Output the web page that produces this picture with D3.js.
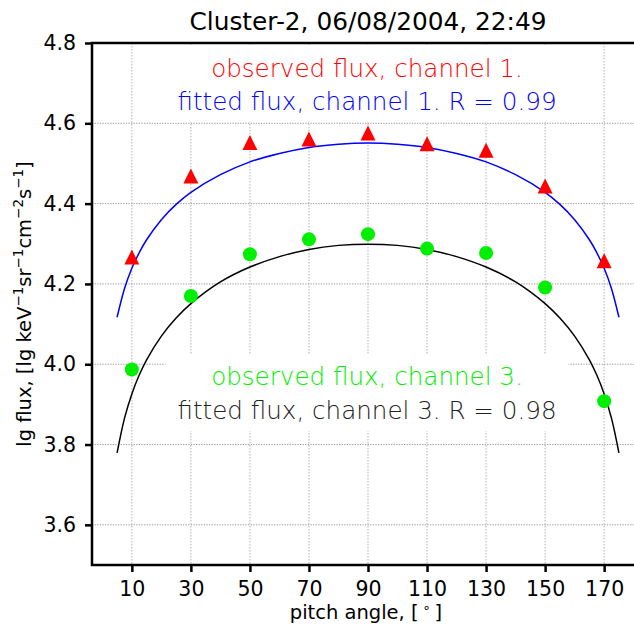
<!DOCTYPE html>
<html><head><meta charset="utf-8">
<script src="https://cdn.jsdelivr.net/npm/d3@7"></script>
<style>
body{margin:0;background:#fff;}
svg{display:block;font-family:"DejaVu Sans",sans-serif;}
</style></head>
<body>
<svg id="chart" width="634" height="628"></svg>
<script>
// ---- data ----
const pitchAngles = [10, 30, 50, 70, 90, 110, 130, 150, 170];
const observedCh1 = [4.267, 4.469, 4.552, 4.561, 4.576, 4.549, 4.533, 4.444, 4.258];
const observedCh3 = [3.987, 4.170, 4.274, 4.311, 4.324, 4.288, 4.277, 4.191, 3.908];
const fitAngles = [5, 7.5, 10, 12.5, 15, 20, 25, 30, 40, 50, 60, 70, 80, 90, 100, 110, 120, 130, 140, 150, 155, 160, 165, 167.5, 170, 172.5, 175];
const fittedCh1 = [4.117, 4.188, 4.239, 4.278, 4.310, 4.360, 4.398, 4.428, 4.472, 4.504, 4.525, 4.540, 4.548, 4.551, 4.548, 4.540, 4.525, 4.504, 4.472, 4.428, 4.398, 4.360, 4.310, 4.278, 4.239, 4.188, 4.117];
const fittedCh3 = [3.779, 3.865, 3.926, 3.973, 4.011, 4.070, 4.115, 4.151, 4.205, 4.242, 4.268, 4.286, 4.296, 4.299, 4.296, 4.286, 4.268, 4.242, 4.205, 4.151, 4.115, 4.070, 4.011, 3.973, 3.926, 3.865, 3.779];
const xTicks = [10, 30, 50, 70, 90, 110, 130, 150, 170];
const yTicks = [3.6, 3.8, 4.0, 4.2, 4.4, 4.6, 4.8];
const titleText = "Cluster-2, 06/08/2004, 22:49";
const topLabels = ["observed flux, channel 1.", "fitted flux, channel 1. R = 0.99"];
const bottomLabels = ["observed flux, channel 3.", "fitted flux, channel 3. R = 0.98"];

// ---- layout ----
const svg = d3.select("#chart");
const L = 92, R = 644, T = 43, B = 565;
const x = d3.scaleLinear().domain([-3.5, 183.5]).range([L, R]);
const y = d3.scaleLinear().domain([3.5, 4.8]).range([B, T]);

// grid
const grid = svg.append("g");
grid.selectAll("line.v").data(xTicks).join("line")
  .attr("x1", d => x(d)).attr("x2", d => x(d)).attr("y1", T).attr("y2", B)
  .attr("stroke", "#c8c8c8").attr("stroke-width", 1.4).attr("stroke-dasharray", "1.5,1.5");
grid.selectAll("line.h").data(yTicks).join("line")
  .attr("x1", L).attr("x2", R).attr("y1", d => y(d)).attr("y2", d => y(d))
  .attr("stroke", "#9a9a9a").attr("stroke-width", 1).attr("stroke-dasharray", "1.3,1.3");

// fitted lines
const line = d3.line().x(d => x(d[0])).y(d => y(d[1])).curve(d3.curveCatmullRom.alpha(0.5));
svg.append("path").datum(fitAngles.map((a, i) => [a, fittedCh1[i]]))
  .attr("d", line).attr("fill", "none").attr("stroke", "#0000ff").attr("stroke-width", 1.5);
svg.append("path").datum(fitAngles.map((a, i) => [a, fittedCh3[i]]))
  .attr("d", line).attr("fill", "none").attr("stroke", "#000").attr("stroke-width", 1.5);

// markers
svg.selectAll("path.tri").data(pitchAngles.map((a, i) => [a, observedCh1[i]])).join("path")
  .attr("transform", d => `translate(${x(d[0])},${y(d[1])})`)
  .attr("d", "M0,-7.5L-7.5,7.5L7.5,7.5Z").attr("fill", "#ff0000");
svg.selectAll("circle.dot").data(pitchAngles.map((a, i) => [a, observedCh3[i]])).join("circle")
  .attr("cx", d => x(d[0])).attr("cy", d => y(d[1])).attr("r", 7).attr("fill", "#00ee00");

// annotation boxes
function annot(lines, colors, cy1, cy2) {
  const g = svg.append("g");
  const t1 = g.append("text").attr("x", 367).attr("y", cy1).attr("text-anchor", "middle")
    .attr("font-size", 24.6).attr("font-weight", 200).attr("fill", colors[0]).text(lines[0]);
  const t2 = g.append("text").attr("x", 367).attr("y", cy2).attr("text-anchor", "middle")
    .attr("font-size", 24.6).attr("font-weight", 200).attr("fill", colors[1]).text(lines[1]);
  const b1 = t1.node().getBBox(), b2 = t2.node().getBBox();
  const x0 = Math.min(b1.x, b2.x) - 12, x1 = Math.max(b1.x + b1.width, b2.x + b2.width) + 12;
  const y0 = b1.y - 8, y1 = b2.y + b2.height + 6;
  g.insert("rect", "text").attr("x", x0).attr("y", y0).attr("width", x1 - x0).attr("height", y1 - y0).attr("fill", "#fff");
}
annot(topLabels, ["#ff0000", "#0000ff"], 77, 110);
annot(bottomLabels, ["#00ee00", "#222"], 385, 419);

// frame
svg.append("rect").attr("x", L).attr("y", T).attr("width", R - L).attr("height", B - T)
  .attr("fill", "none").attr("stroke", "#000").attr("stroke-width", 2.5);

// axes
const xAxis = svg.append("g").attr("transform", `translate(0,${B})`)
  .call(d3.axisBottom(x).tickValues(xTicks).tickFormat(d3.format("d")).tickSize(7).tickPadding(9));
const yAxis = svg.append("g").attr("transform", `translate(${L},0)`)
  .call(d3.axisLeft(y).tickValues(yTicks).tickFormat(d3.format(".1f")).tickSize(7).tickPadding(9));
[xAxis, yAxis].forEach(a => {
  a.select(".domain").remove();
  a.selectAll(".tick line").attr("stroke", "#000").attr("stroke-width", 2.5);
  a.selectAll(".tick text").attr("font-size", 20.5).attr("font-family", "DejaVu Sans").attr("fill", "#000");
});

// title
svg.append("text").attr("x", 368).attr("y", 30).attr("text-anchor", "middle")
  .attr("font-size", 24.8).attr("fill", "#000").text(titleText);

// x label
const xl = svg.append("text").attr("x", 366).attr("y", 619).attr("text-anchor", "middle")
  .attr("font-size", 19.5).attr("fill", "#000");
xl.append("tspan").text("pitch angle, [\u2009");
xl.append("tspan").attr("dy", -7).attr("font-size", 13).text("\u2218");
xl.append("tspan").attr("dy", 7).text("\u2009]");

// y label
const yl = svg.append("text").attr("transform", "translate(31,304) rotate(-90)")
  .attr("text-anchor", "middle").attr("font-size", 19.5).attr("fill", "#000");
const parts = [["lg flux, [lg keV", false], ["\u22121", true], ["sr", false], ["\u22121", true], ["cm", false], ["\u22122", true], ["s", false], ["\u22121", true], ["]", false]];
parts.forEach(([t, sup]) => {
  yl.append("tspan").attr("dy", sup ? -8 : 8).attr("font-size", sup ? 13.5 : 19.5).text(t);
});
yl.select("tspan").attr("dy", 0);
</script>
</body></html>
